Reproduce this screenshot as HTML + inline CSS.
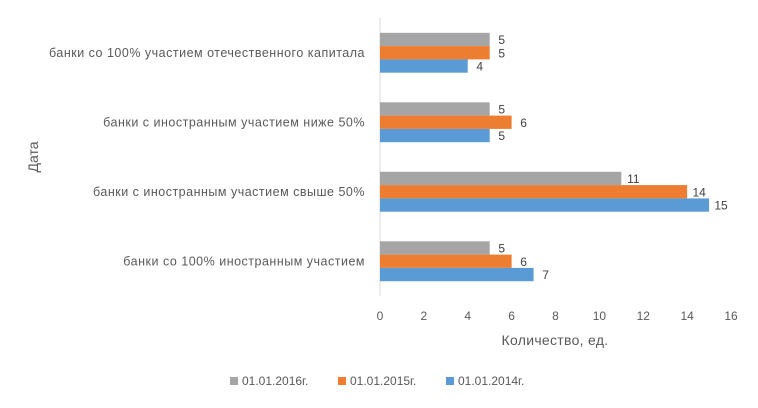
<!DOCTYPE html>
<html><head><meta charset="utf-8"><style>
body{margin:0;background:#fff;}
svg{display:block;font-family:"Liberation Sans","DejaVu Sans",sans-serif;}
</style></head><body>
<svg id="chart" width="758" height="408" viewBox="0 0 758 408" xmlns="http://www.w3.org/2000/svg">
<g id="grid"></g><g id="bars"></g><g id="labels"></g>
<text x="555" y="345" font-size="14" fill="#595959" text-anchor="middle" letter-spacing="0.3">Количество, ед.</text>
<text transform="translate(38,157) rotate(-90)" font-size="14" fill="#595959" text-anchor="middle">Дата</text>
<g font-size="12" fill="#595959">
<g><rect x="230" y="377" width="8" height="8" fill="#a5a5a5"/><text x="242" y="385">01.01.2016г.</text></g>
<g><rect x="338" y="377" width="8" height="8" fill="#ed7d31"/><text x="350" y="385">01.01.2015г.</text></g>
<g><rect x="446" y="377" width="8" height="8" fill="#5b9bd5"/><text x="458" y="385">01.01.2014г.</text></g>
</g>
</svg>
<script>
const categories=["банки со 100%  участием отечественного капитала","банки с иностранным участием ниже 50%","банки с иностранным участием свыше 50%","банки со 100%  иностранным участием"];
const s2016=[5,5,11,5];
const s2015=[5,6,14,6];
const s2014=[4,5,15,7];
const ticks=[0,2,4,6,8,10,12,14,16];
const NS="http://www.w3.org/2000/svg";
const x0=380,x1=731,xmax=16,plotTop=18,band=69.5,bh=13.3;
const xs=v=>x0+(x1-x0)*v/xmax;
function mk(t,a,p){const e=document.createElementNS(NS,t);for(const k in a)e.setAttribute(k,a[k]);p.appendChild(e);return e;}
const gG=document.getElementById('grid'),gB=document.getElementById('bars'),gL=document.getElementById('labels');
const ax=mk('line',{x1:x0,x2:x0,y1:plotTop,y2:plotTop+band*4,stroke:'#d9d9d9','stroke-width':1},gG);


ticks.forEach(t=>{const e=mk('text',{x:xs(t),y:320,'font-size':12,fill:'#595959','text-anchor':'middle'},gL);e.textContent=t;

});
const series=[[s2016,'#a5a5a5','2016'],[s2015,'#ed7d31','2015'],[s2014,'#5b9bd5','2014']];
categories.forEach((c,i)=>{const cy=plotTop+band*(i+0.5);
const t=mk('text',{x:365,y:cy+4,'font-size':12.5,fill:'#595959','text-anchor':'end','letter-spacing':0.5,'xml:space':'preserve'},gL);t.textContent=c;


series.forEach((s,j)=>{const y=cy-bh*1.5+bh*j;const v=s[0][i];
const r=mk('rect',{x:x0,y:y,width:xs(v)-x0,height:bh,fill:s[1]},gB);


const vt=mk('text',{x:xs(v)+12,y:y+bh/2+4.5,'font-size':12,fill:'#404040','text-anchor':'middle'},gL);vt.textContent=v;

});});
</script>
</body></html>
